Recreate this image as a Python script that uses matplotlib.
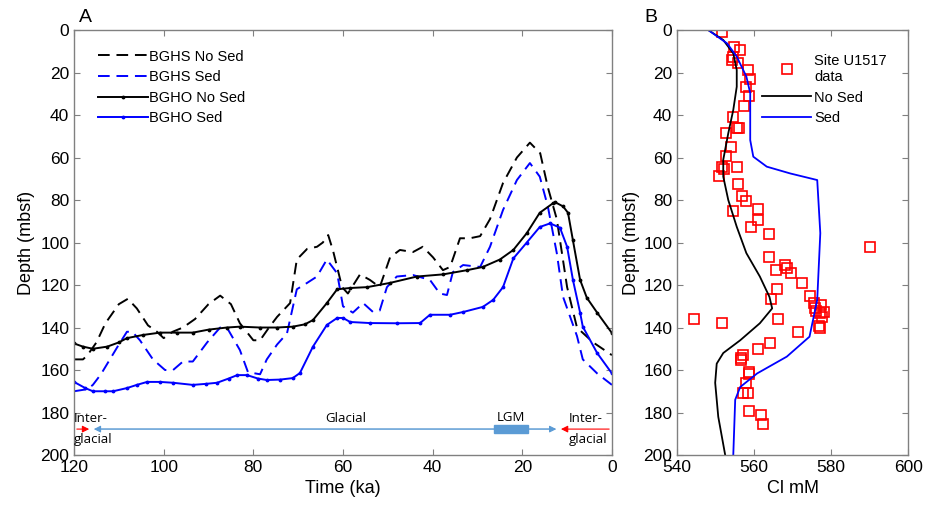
import numpy as np
import matplotlib.pyplot as plt
from matplotlib.patches import Rectangle

plt.rcParams['font.family'] = ['Liberation Sans', 'DejaVu Sans']

# ---- panel A: time (ka) vs depth (mbsf)
bghs_nosed_t = [120, 118, 117, 115, 113, 110, 108, 106, 103.5, 101.5, 100, 98, 95.7, 93, 90, 87.4, 85, 83, 80, 78.5,
                76.5, 74.7, 71.8, 70.3, 68, 65.8, 64.5, 63.3, 62.2, 60.2, 58.9, 56.2, 54, 51.8, 49.5, 47.3, 44.4, 42.2,
                39.9, 37.7, 36.1, 33.9, 31.7, 29.4, 27.2, 24.3, 21.2, 18.3, 16, 14.3, 12.3, 10, 7.8, 4.2, 0]
bghs_nosed_d = [155, 155, 153, 147, 138, 129, 126.5, 131, 139, 142, 145, 142, 140, 136, 129, 125, 129, 138, 146, 146,
                140, 135, 128.5, 108, 103, 102, 100, 96.5, 104, 121, 124, 115, 117.6, 121, 107, 103.5, 104.5, 102,
                107, 113, 111.5, 98, 98, 97, 89, 72, 60, 53, 58, 74, 89, 121, 140, 147, 153]

bghs_sed_t = [120, 117, 115.8, 114, 112, 110, 108.2, 107, 105.3, 102.4, 99.7, 97.9, 95.7, 93.5, 90.3, 87.4, 85.9, 83,
              81.2, 78.5, 77, 74.7, 72.5, 70.3, 68, 65.8, 63.6, 61.3, 60, 57.8, 55.5, 53.3, 51.8, 50.2, 48, 44.4,
              40.6, 38.4, 36.8, 35.5, 33.2, 29.4, 27.2, 24.3, 21.2, 18.3, 16.1, 14.3, 12.3, 10.9, 7.8, 6.5, 3.3, 0]
bghs_sed_d = [170, 169, 167, 162, 155, 148, 142, 142, 146, 155, 160, 160, 156, 156, 147, 140, 140, 150.6,
              161, 162, 155, 148, 142.8, 122, 119, 116, 108, 114.5, 130, 133, 128.5, 132.7, 132, 121, 116, 115.3,
              117.6, 124, 124.7, 114, 110.6, 111.5, 102, 84.7, 70.6, 62.6, 69, 83, 105, 125.6, 144, 155, 161.6, 167]

bgho_nosed_t = [120, 118, 115.8, 112.6, 110, 108.2, 104.6, 100.8, 97, 93.5, 90, 85.9, 83, 78.5, 74.7, 71.2, 68.5,
                66.7, 63.6, 61.3, 58.4, 54.6, 49.5, 43.5, 37.7, 32.3, 28.8, 25, 22, 19, 16.1, 13.2, 12.7, 10.9,
                9.8, 8.7, 7.1, 5.6, 3.3, 0]
bgho_nosed_d = [147.5, 149, 150, 149, 147, 145, 143.5, 142.4, 142.4, 142.4, 141, 140, 139.6, 140, 140, 139.6, 138.5,
                136.5, 128.5, 122, 121.4, 121, 119, 116, 115, 113, 111.5, 108, 103.5, 95.6, 86, 81.6, 81, 83,
                86, 99, 117.6, 126, 133, 142.6]

bgho_sed_t = [120, 117.5, 115.8, 113, 111.3, 108.2, 106, 103.7, 100.8, 97.9, 93.5, 90.5, 88.1, 85.5, 83.6, 81.4, 79,
              77, 74, 71.2, 69.6, 66.7, 63.6, 61.3, 60, 58.4, 54, 48, 42.8, 40.6, 36.1, 33.2, 28.8, 26.5, 24.3, 22,
              19, 16.1, 13.8, 11.6, 10, 8.7, 7.1, 6.5, 3.3, 0]
bgho_sed_d = [165.6, 168.5, 170, 170, 170, 168.5, 167, 165.6, 165.6, 166, 167, 166.5, 166, 164, 162.4, 162.4, 164,
              164.7, 164.5, 163.8, 161.4, 149, 138.8, 135.5, 135.5, 137.4, 137.9, 138, 137.9, 134, 134, 132.7, 130.3,
              127, 121, 107.5, 100, 92.7, 91, 93, 102, 117.6, 133, 139.6, 152, 161.6]

# ---- panel B: Cl (mM) vs depth
nosed_cl = [548.1, 552, 554.6, 555.5, 555.5, 554.6, 553.3, 552, 552, 553.3, 555.5, 558, 561.5, 564, 564.7, 561.5,
            556.4, 552, 550.3, 549.9, 550.7, 552.5]
nosed_z = [0, 4.7, 11, 18.8, 26.7, 37.6, 48.6, 61, 69, 80, 92.6, 105, 116, 125.6, 131, 138,
           146, 152, 157, 166, 182, 200]
sed_cl = [548.1, 553, 555.5, 558, 559, 559, 559.8, 563.3, 569.4, 576.4, 577.2, 576.4, 574.4, 568.5, 560.8, 556.4,
          555.1, 554.6]
sed_z = [0, 6.3, 12.5, 21.9, 29.7, 51.8, 59.6, 64.3, 67.5, 70.6, 95.6, 127, 144.3, 153.7, 161.6, 168, 174, 200]

u1517_cl = [551.8, 554.9, 556.4, 554.4, 554.3, 555.7, 558.5, 559, 557.8, 558.7, 557.4, 554.5, 555.5, 556.1, 552.6,
            553.9, 552.6, 551.7, 552.2, 551, 555.5, 555.7, 556.8, 557.9, 554.5, 560.9, 560.9, 559.2, 564, 590,
            563.9, 568.1, 568.5, 565.7, 569.7, 572.5, 565.9, 564.4, 574.6, 575.6, 577.3, 575.8, 578.2, 577.1,
            577.7, 576, 544.4, 551.7, 566.3, 576.9, 577.1, 571.4, 564.2, 561, 557.1, 556.7, 556.6, 558.6, 558.8,
            557.8, 557.1, 558.5, 558.6, 561.7, 562.2]
u1517_z = [1, 7.8, 9.4, 12.9, 14, 15.4, 18.8, 23, 27, 31.2, 35.9, 40.8, 46.1, 46, 48.5,
           55, 59.1, 64.3, 65.4, 68.7, 64.3, 72.6, 78, 80.6, 85, 84.1, 89.3, 92.7, 96.2, 102.3,
           106.7, 110.6, 112.2, 112.9, 114.5, 119.2, 122, 126.6, 125.2, 128.6, 129.4, 131, 132.5, 133.4,
           134.9, 132, 136.1, 137.7, 135.9, 139.3, 140.4, 142, 147.1, 150.1, 153, 154.5, 155.5, 161.1, 162,
           166, 170.7, 170.7, 179.1, 181, 185.3]

BLUE = '#0000ff'
SPINE = '0.5'


def style_axes(ax):
    for s in ax.spines.values():
        s.set_color(SPINE)
        s.set_linewidth(1.0)
    ax.tick_params(direction='in', top=True, right=True, color=SPINE, labelsize=12.5, length=4)


fig = plt.figure(figsize=(9.29, 5.08), dpi=100)
axA = fig.add_axes([0.0797, 0.1043, 0.579, 0.8366])
axB = fig.add_axes([0.7288, 0.1043, 0.2487, 0.8366])

# panel A curves
axA.plot(bghs_nosed_t, bghs_nosed_d, color='k', lw=1.4, dashes=(6, 3.5), label='BGHS No Sed')
axA.plot(bghs_sed_t, bghs_sed_d, color=BLUE, lw=1.4, dashes=(6, 3.5), label='BGHS Sed')
axA.plot(bgho_nosed_t, bgho_nosed_d, color='k', lw=1.4, marker='.', ms=3.5, label='BGHO No Sed')
axA.plot(bgho_sed_t, bgho_sed_d, color=BLUE, lw=1.4, marker='.', ms=3.5, label='BGHO Sed')

# climate period annotation
arrow_z = 187.8
axA.annotate('', xy=(116, arrow_z), xytext=(120, arrow_z),
             arrowprops=dict(arrowstyle='-|>', color='red', lw=0.8, mutation_scale=10))
axA.annotate('', xy=(0, arrow_z), xytext=(12, arrow_z),
             arrowprops=dict(arrowstyle='<|-', color='red', lw=0.8, mutation_scale=10))
axA.annotate('', xy=(115.6, arrow_z), xytext=(12.4, arrow_z),
             arrowprops=dict(arrowstyle='<|-|>', color='#5b9bd5', lw=0.8, mutation_scale=10, shrinkA=0, shrinkB=0))
axA.plot([114, 13], [arrow_z, arrow_z], color='#a9c9e8', lw=1.2)
axA.add_patch(Rectangle((18.8, 185.7), 7.4, 3.8, color='#5b9bd5', zorder=3))
afont = dict(family=['Open Sans', 'DejaVu Sans'], fontsize=9.5)
axA.text(120, 186, 'Inter-', ha='left', va='bottom', **afont)
axA.text(120, 189.5, 'glacial', ha='left', va='top', **afont)
axA.text(9.6, 186, 'Inter-', ha='left', va='bottom', **afont)
axA.text(9.6, 189.5, 'glacial', ha='left', va='top', **afont)
axA.text(59.4, 186, 'Glacial', ha='center', va='bottom', **afont)
axA.text(22.6, 185.2, 'LGM', ha='center', va='bottom', **afont)

axA.set_xlim(120, 0)
axA.set_ylim(200, 0)
axA.set_xticks(np.arange(120, -1, -20))
axA.set_yticks(np.arange(0, 201, 20))
axA.set_xlabel('Time (ka)', fontsize=13)
axA.set_ylabel('Depth (mbsf)', fontsize=13)
style_axes(axA)
axA.legend(loc='upper left', bbox_to_anchor=(0.02, 0.985), frameon=False, fontsize=10.5,
           handlelength=3.4, handletextpad=0.1, labelspacing=0.45)
axA.text(0.01, 1.01, 'A', transform=axA.transAxes, fontsize=14, ha='left', va='bottom')

# panel B
axB.plot(u1517_cl, u1517_z, ls='none', marker='s', ms=6.5, mfc='none', mec='red', mew=1.2,
         label='Site U1517\ndata')
axB.plot(nosed_cl, nosed_z, color='k', lw=1.3, label='No Sed')
axB.plot(sed_cl, sed_z, color=BLUE, lw=1.3, label='Sed')
axB.set_xlim(540, 600)
axB.set_ylim(200, 0)
axB.set_xticks([540, 560, 580, 600])
axB.set_yticks(np.arange(0, 201, 20))
axB.set_xlabel('Cl mM', fontsize=13)
axB.set_ylabel('Depth (mbsf)', fontsize=13, labelpad=2)
style_axes(axB)
axB.legend(loc='upper right', bbox_to_anchor=(0.965, 0.975), frameon=False, fontsize=10.5,
           handlelength=3.4, handletextpad=0.2, labelspacing=0.45)
axB.text(-0.14, 1.01, 'B', transform=axB.transAxes, fontsize=14, ha='left', va='bottom')

fig.savefig('out.png', dpi=100)
